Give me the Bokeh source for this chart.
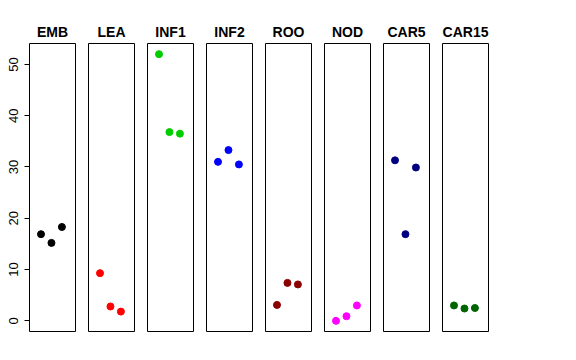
from bokeh.plotting import figure
from bokeh.layouts import row
from bokeh.models import FixedTicker, Range1d
from bokeh.embed import file_html
from bokeh.resources import INLINE

tissues = ["EMB", "LEA", "INF1", "INF2", "ROO", "NOD", "CAR5", "CAR15"]
colors = ["#000000", "#FF0000", "#00CD00", "#0000FF", "#8B0000", "#FF00FF", "#000080", "#006400"]
replicate = [1, 2, 3]
emb = [16.9, 15.2, 18.3]
lea = [9.3, 2.8, 1.8]
inf1 = [52.0, 36.8, 36.5]
inf2 = [31.0, 33.3, 30.5]
roo = [3.1, 7.4, 7.1]
nod = [0.0, 0.9, 3.0]
car5 = [31.3, 16.9, 29.9]
car15 = [3.0, 2.4, 2.5]
series = [emb, lea, inf1, inf2, roo, nod, car5, car15]
y_ticks = [0, 10, 20, 30, 40, 50]

ymin = min(min(s) for s in series)
ymax = max(max(s) for s in series)
pad = (ymax - ymin) * 0.04

figs = []
for i, (name, col, vals) in enumerate(zip(tissues, colors, series)):
    p = figure(frame_width=46, frame_height=288, output_backend="svg",
               toolbar_location=None, x_axis_type=None,
               y_axis_type="linear" if i == 0 else None,
               x_range=Range1d(-0.1, 4.3), y_range=Range1d(ymin - pad, ymax + pad),
               min_border_left=29 if i == 0 else 0,
               min_border_right=13 if i < 7 else 2,
               min_border_top=43, min_border_bottom=10,
               title=name)
    p.title.align = "center"
    p.title.text_font = "Liberation Sans"
    p.title.text_font_size = "14px"
    p.title.text_font_style = "bold"
    p.title.text_color = "black"
    p.title.standoff = 8
    p.outline_line_color = "black"
    p.outline_line_width = 1
    p.xgrid.visible = False
    p.ygrid.visible = False
    if i == 0:
        ax = p.yaxis[0]
        ax.ticker = FixedTicker(ticks=y_ticks)
        ax.axis_line_color = None
        ax.minor_tick_line_color = None
        ax.major_tick_out = 5
        ax.major_tick_in = 0
        ax.major_tick_line_color = "black"
        ax.major_label_orientation = "vertical"
        ax.major_label_standoff = 6
        ax.major_label_text_font = "Liberation Sans"
        ax.major_label_text_font_size = "13px"
        ax.major_label_text_color = "black"
    p.scatter(replicate, vals, size=7, color=col, line_color=col)
    figs.append(p)

layout = row(figs)
open("out.html", "w").write(file_html(layout, INLINE))
